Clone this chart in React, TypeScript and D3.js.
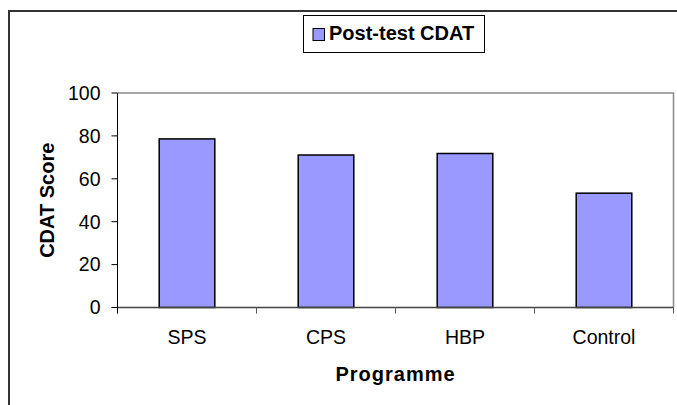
import { useEffect, useRef } from "react";
import * as d3 from "d3";

const categories = ["SPS", "CPS", "HBP", "Control"];
const postTestScores = [78.6, 71.1, 71.8, 53.3];
const yTicks = [0, 20, 40, 60, 80, 100];
const seriesName = "Post-test CDAT";

const App = () => {
    const ref = useRef<SVGSVGElement | null>(null);

    useEffect(() => {
        const root = d3.select(ref.current);
        root.selectAll("*").remove();

        const font = "'Liberation Sans', Arial, sans-serif";
        const left = 117.5;
        const right = 673.5;
        const top = 93;
        const bottom = 307.5;

        // outer chart frame (runs off the right and bottom edge)
        root.append("rect")
            .attr("x", 9)
            .attr("y", 11)
            .attr("width", 720)
            .attr("height", 450)
            .attr("fill", "#ffffff")
            .attr("stroke", "#333333")
            .attr("stroke-width", 2);

        const x = d3.scaleBand()
            .domain(categories)
            .range([left, right])
            .paddingInner(0.6)
            .paddingOuter(0.3);

        const y = d3.scaleLinear()
            .domain([0, 100])
            .range([bottom, top]);

        const data = categories.map((c, i) => ({ category: c, value: postTestScores[i] }));

        // plot area outline (top + right)
        root.append("path")
            .attr("d", `M${left},${top}H${right}V${bottom}`)
            .attr("fill", "none")
            .attr("stroke", "#8a8a8a")
            .attr("stroke-width", 1.5);

        // bars
        root.selectAll(".bar")
            .data(data)
            .enter()
            .append("rect")
            .attr("x", d => x(d.category)!)
            .attr("y", d => y(d.value))
            .attr("width", x.bandwidth())
            .attr("height", d => y(0) - y(d.value))
            .attr("fill", "#9999FF")
            .attr("stroke", "#000000")
            .attr("stroke-width", 1.5);

        // X axis
        const step = x.step();
        const xAxis = root.append("g");
        xAxis.append("line")
            .attr("x1", left).attr("x2", right)
            .attr("y1", bottom).attr("y2", bottom)
            .attr("stroke", "#444444")
            .attr("stroke-width", 1.5);
        xAxis.selectAll(".xtick")
            .data(d3.range(categories.length + 1))
            .enter()
            .append("line")
            .attr("x1", i => left + i * step)
            .attr("x2", i => left + i * step)
            .attr("y1", bottom)
            .attr("y2", bottom + 6)
            .attr("stroke", "#555555")
            .attr("stroke-width", 1);
        xAxis.selectAll(".xlabel")
            .data(categories)
            .enter()
            .append("text")
            .attr("x", d => x(d)! + x.bandwidth() / 2)
            .attr("y", 343.5)
            .attr("text-anchor", "middle")
            .attr("font-family", font)
            .attr("font-size", "19.5px")
            .attr("fill", "#000000")
            .text(d => d);

        // Y axis
        const yAxis = root.append("g");
        yAxis.append("line")
            .attr("x1", left).attr("x2", left)
            .attr("y1", top).attr("y2", bottom + 6)
            .attr("stroke", "#000000")
            .attr("stroke-width", 1);
        yAxis.selectAll(".ytick")
            .data(yTicks)
            .enter()
            .append("line")
            .attr("x1", left - 6)
            .attr("x2", left)
            .attr("y1", d => y(d))
            .attr("y2", d => y(d))
            .attr("stroke", "#000000")
            .attr("stroke-width", 1);
        yAxis.selectAll(".ylabel")
            .data(yTicks)
            .enter()
            .append("text")
            .attr("x", 100.5)
            .attr("y", d => y(d) + 6.8)
            .attr("text-anchor", "end")
            .attr("font-family", font)
            .attr("font-size", "19.5px")
            .attr("fill", "#000000")
            .text(d => d);

        // Axis titles
        root.append("text")
            .attr("x", (left + right) / 2)
            .attr("y", 380.5)
            .attr("text-anchor", "middle")
            .attr("font-family", font)
            .attr("font-size", "20px")
            .attr("font-weight", "bold")
            .attr("letter-spacing", "1px")
            .text("Programme");

        root.append("text")
            .attr("transform", `translate(53.5,${(top + bottom) / 2}) rotate(-90)`)
            .attr("text-anchor", "middle")
            .attr("font-family", font)
            .attr("font-size", "20px")
            .attr("font-weight", "bold")
            .text("CDAT Score");

        // Legend
        const legend = root.append("g");
        legend.append("rect")
            .attr("x", 303.5)
            .attr("y", 15.5)
            .attr("width", 181)
            .attr("height", 37)
            .attr("fill", "#ffffff")
            .attr("stroke", "#000000")
            .attr("stroke-width", 1);
        legend.append("rect")
            .attr("x", 313)
            .attr("y", 28.5)
            .attr("width", 11.5)
            .attr("height", 12)
            .attr("fill", "#9999FF")
            .attr("stroke", "#000000")
            .attr("stroke-width", 1);
        legend.append("text")
            .attr("x", 329)
            .attr("y", 39.5)
            .attr("font-family", font)
            .attr("font-size", "20px")
            .attr("font-weight", "bold")
            .text(seriesName);
    }, []);

    return (
        <div style={{ position: "absolute", left: 0, top: 0, width: 677, height: 405, overflow: "hidden" }}>
            <svg ref={ref} width={677} height={405} style={{ display: "block", background: "#ffffff" }} />
        </div>
    );
};

export default App;
